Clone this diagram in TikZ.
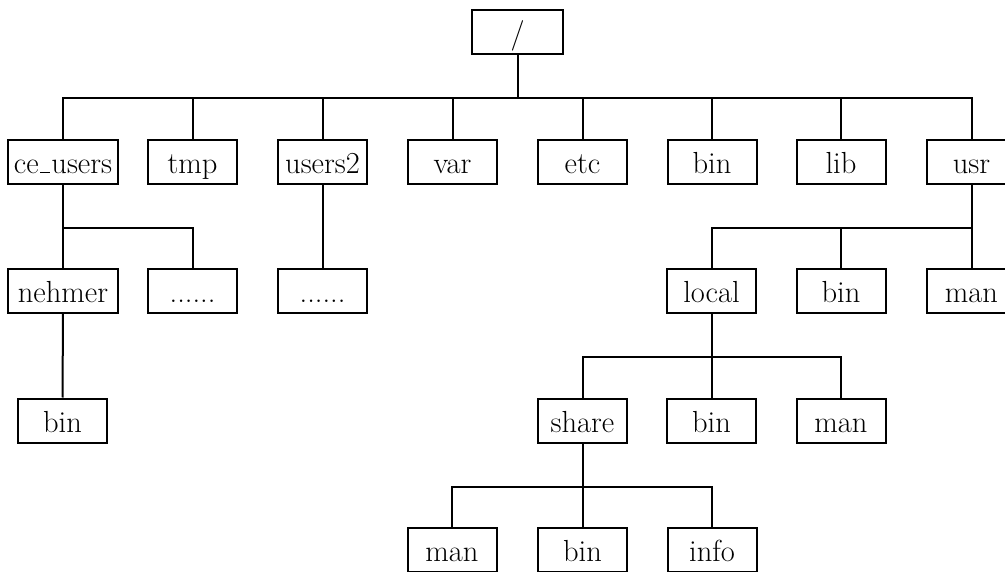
\documentclass[tikz,border=0pt]{standalone}
% short low rule used as the underscore in directory names
\newcommand{\shortus}{\kern.06em\vbox{\hrule width .3em height .04em}\kern.06em}
\begin{document}
\begin{tikzpicture}[x=1pt,y=-1pt,
  dirbox/.style={draw, line width=2pt, rectangle, minimum width=89pt,
    minimum height=44pt, inner sep=0pt, text height=26pt, text depth=3pt,
    font=\fontsize{30.5}{36}\selectfont},
  widebox/.style={dirbox, minimum width=110pt},
  link/.style={line width=2pt}]
\useasboundingbox (0,0) rectangle (1005,572);
\clip (0,0) rectangle (1005,572);

% root
\node[dirbox, minimum width=91pt] (root) at (517.5,32) {/};

% first level
\node[widebox] (ceusers) at (63,162) {ce\shortus users};
\node[dirbox] (tmp)    at (192.5,162) {tmp};
\node[dirbox] (users2) at (322.5,162) {users2};
\node[dirbox] (var)    at (452.5,162) {var};
\node[dirbox] (etc)    at (582.5,162) {etc};
\node[dirbox] (bin)    at (712,162) {bin};
\node[dirbox] (lib)    at (841,162) {lib};
\node[dirbox] (usr)    at (971.5,162) {usr};

% second level
\node[widebox] (nehmer) at (63,291) {nehmer};
\node[dirbox] (dotsA)  at (192.5,291) {......};
\node[dirbox] (dotsB)  at (322.5,291) {......};
\node[dirbox] (local)  at (711.5,291) {local};
\node[dirbox] (usrbin) at (841,291) {bin};
\node[dirbox] (usrman) at (971.5,291) {man};

% third level
\node[dirbox] (nbin)   at (62.5,420.5) {bin};
\node[dirbox] (share)  at (582.5,420.5) {share};
\node[dirbox] (lbin)   at (711.5,420.5) {bin};
\node[dirbox] (lman)   at (841,420.5) {man};

% fourth level
\node[dirbox] (sman)   at (452,550) {man};
\node[dirbox] (sbin)   at (582.5,550) {bin};
\node[dirbox] (sinfo)  at (712,550) {info};

% connectors
\foreach \c in {ceusers,tmp,users2,var,etc,bin,lib,usr}
  \draw[link] (root.south) -- +(0,43) -| (\c.north);
\foreach \c in {nehmer,dotsA}
  \draw[link] (ceusers.south) -- +(0,43) -| (\c.north);
\draw[link] (users2.south) -- (dotsB.north);
\foreach \c in {local,usrbin,usrman}
  \draw[link] (usr.south) -- +(0,43) -| (\c.north);
\draw[link] (nehmer.south) -- (nbin.north);
\foreach \c in {share,lbin,lman}
  \draw[link] (local.south) -- +(0,43) -| (\c.north);
\foreach \c in {sman,sbin,sinfo}
  \draw[link] (share.south) -- +(0,43) -| (\c.north);
\end{tikzpicture}
\end{document}
